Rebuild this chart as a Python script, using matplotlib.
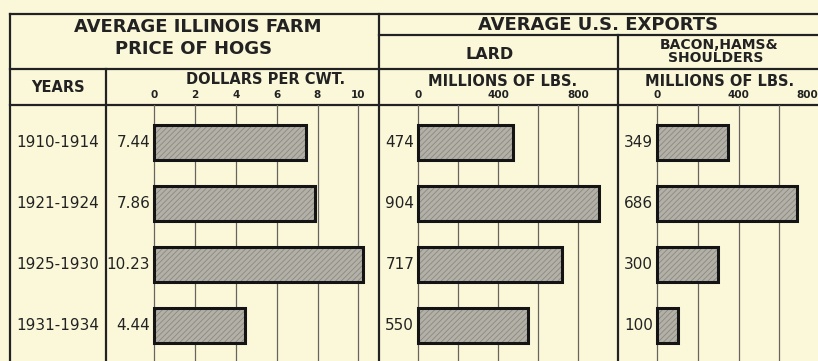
import matplotlib
matplotlib.use("Agg")
import matplotlib.pyplot as plt
from matplotlib.transforms import blended_transform_factory

# ---- data ----
years = ["1910-1914", "1921-1924", "1925-1930", "1931-1934"]
hog_price = [7.44, 7.86, 10.23, 4.44]          # dollars per cwt.
lard_exports = [474, 904, 717, 550]            # millions of lbs.
bacon_exports = [349, 686, 300, 100]           # millions of lbs.

hog_grid = [0, 2, 4, 6, 8, 10]
hog_ticks = ["0", "2", "4", "6", "8", "10"]
lard_grid = [0, 200, 400, 600, 800]
lard_ticks = ["0", "400", "800"]
bacon_grid = [0, 200, 400, 600, 800]
bacon_ticks = ["0", "400", "800"]

# ---- style ----
W, H = 818, 361
DPI = 100
BG = "#fbf8da"
INK = "#222222"
GRID = "#66645f"
BAR_FACE = "#b3b0a7"
BAR_HATCH = "#8b8880"
FONT = "DejaVu Sans"

plt.rcParams["font.family"] = FONT
plt.rcParams["hatch.linewidth"] = 0.6

fig = plt.figure(figsize=(W / DPI, H / DPI), dpi=DPI, facecolor=BG)

# pixel-space canvas for the ruled table and headings
bg = fig.add_axes([0, 0, 1, 1])
bg.set_xlim(0, W)
bg.set_ylim(H, 0)
bg.set_facecolor(BG)
bg.axis("off")


def px_axes(x0, x1, y0, y1):
    return fig.add_axes([x0 / W, 1 - y1 / H, (x1 - x0) / W, (y1 - y0) / H])


LEFT, TOP = 10, 14
HDR_BOT = 105
X_YEARS, X_HOGS, X_LARD, X_BACON = 106, 379, 618, W

# table rules
lw_rule = 1.6
bg.plot([LEFT, W], [TOP, TOP], color=INK, lw=lw_rule)
bg.plot([LEFT, LEFT], [TOP, H], color=INK, lw=lw_rule)
bg.plot([X_HOGS, W], [35, 35], color=INK, lw=lw_rule)
bg.plot([LEFT, W], [69, 69], color=INK, lw=lw_rule)
bg.plot([LEFT, W], [HDR_BOT, HDR_BOT], color=INK, lw=lw_rule)
bg.plot([X_YEARS, X_YEARS], [69, H], color=INK, lw=lw_rule)
bg.plot([X_HOGS, X_HOGS], [TOP, H], color=INK, lw=lw_rule)
bg.plot([X_LARD, X_LARD], [35, H], color=INK, lw=lw_rule)

# headings
def head(x, y, s, size, weight="bold"):
    bg.text(x, y, s, ha="center", va="center", fontsize=size, color=INK,
            fontweight=weight)

head(198, 27, "AVERAGE ILLINOIS FARM", 13)
head(194, 48.5, "PRICE OF HOGS", 13)
head(598, 25, "AVERAGE U.S. EXPORTS", 13)
head(490, 54.5, "LARD", 11.5)
head(719, 45, "BACON,HAMS&", 10)
head(716, 57.5, "SHOULDERS", 10)
head(58, 87, "YEARS", 10.5)
head(266, 80, "DOLLARS PER CWT.", 10.5)
head(503, 81, "MILLIONS OF LBS.", 10.5)
head(720, 81, "MILLIONS OF LBS.", 10.5)

# row geometry shared by all panels
ROW0, ROW_STEP = 142.5, 61.0
ylim = ((H - ROW0) / ROW_STEP, -(ROW0 - HDR_BOT) / ROW_STEP)
BAR_H = 35 / ROW_STEP

# year labels column
ax_y = px_axes(LEFT, X_YEARS, HDR_BOT, H)
ax_y.set_xlim(0, 1)
ax_y.set_ylim(*ylim)
ax_y.axis("off")
for i, yr in enumerate(years):
    ax_y.text(0.5, i, yr, ha="center", va="center", fontsize=11, color=INK)


def panel(x0, x1, zero_px, px_per_unit, values, grid, ticks, fmt):
    ax = px_axes(x0, x1, HDR_BOT, H)
    lo, hi = (x0 - zero_px) / px_per_unit, (x1 - zero_px) / px_per_unit
    ax.set_xlim(lo, hi)
    ax.set_ylim(*ylim)
    ax.axis("off")
    ax.patch.set_alpha(0)
    for g in grid:
        ax.axvline(g, color=GRID, lw=0.9, zorder=1)
    pos = list(range(len(values)))
    ax.barh(pos, values, height=BAR_H, color=BAR_FACE, edgecolor=BAR_HATCH,
            hatch="//////", lw=0, zorder=2)
    ax.barh(pos, values, height=BAR_H, fill=False, edgecolor="#141414",
            lw=2.2, zorder=3)
    for i, v in enumerate(values):
        ax.annotate(fmt(v), (0, i), xytext=(-3, 0), textcoords="offset points",
                    ha="right", va="center", fontsize=11, color=INK)
    tr = blended_transform_factory(ax.transData, bg.transData)
    for t in ticks:
        x, ha = float(t), "center"
        if x > hi - 0.03 * (hi - lo):
            # last label would run past the figure edge: pin it to the edge
            x, ha = hi, "right"
        ax.text(x, 95, t, transform=tr, ha=ha, va="center",
                fontsize=7.5, fontweight="bold", color=INK, clip_on=False)
    return ax


panel(X_YEARS, X_HOGS, 154.3, 20.4, hog_price, hog_grid, hog_ticks,
      lambda v: f"{v:.2f}")
panel(X_HOGS, X_LARD, 418.3, 0.2, lard_exports, lard_grid, lard_ticks,
      lambda v: f"{v:d}")
panel(X_LARD, X_BACON, 657.3, 0.2035, bacon_exports, bacon_grid, bacon_ticks,
      lambda v: f"{v:d}")

fig.savefig("out.png", dpi=DPI, facecolor=BG)
